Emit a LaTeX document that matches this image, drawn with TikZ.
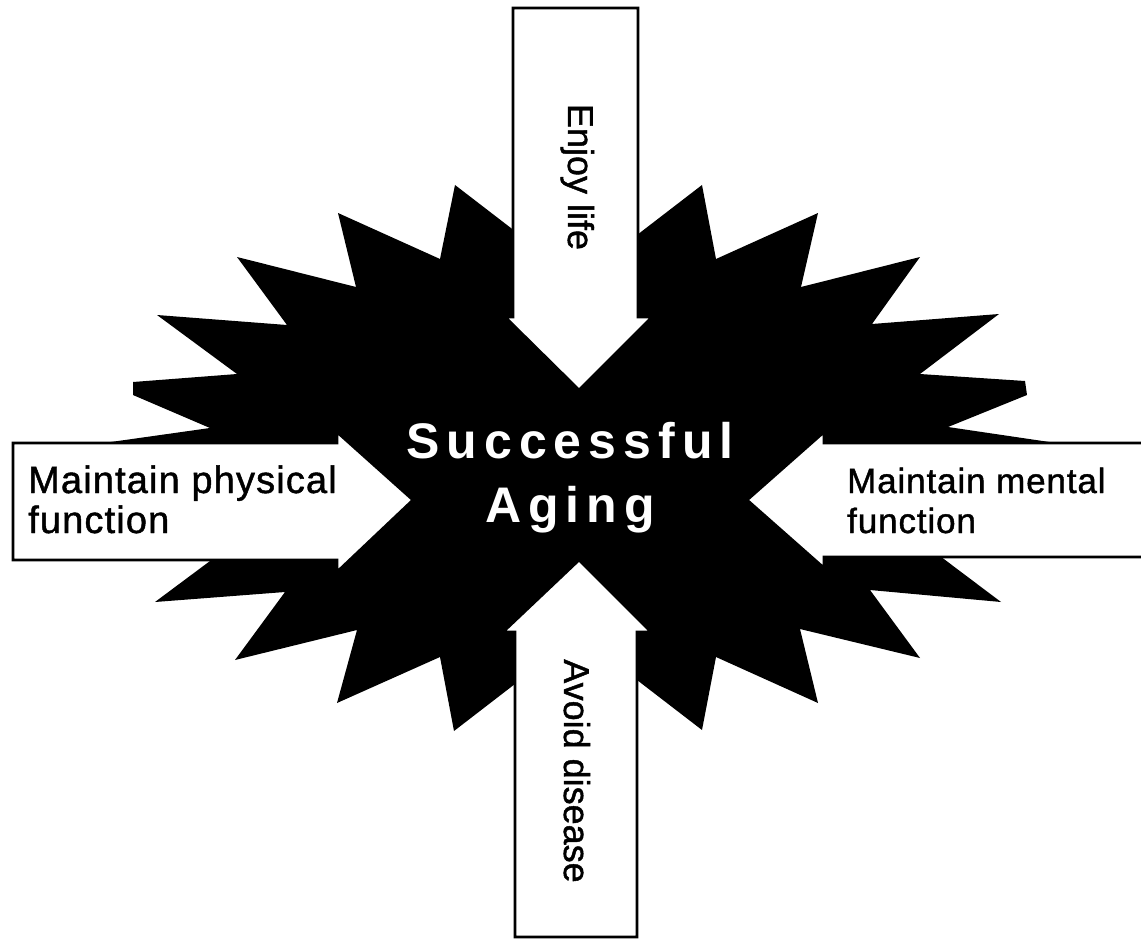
\documentclass[tikz,border=0pt]{standalone}
\usepackage{fontspec}
\setmainfont{Liberation Sans}
\newfontfamily\titlefont[LetterSpace=14]{Liberation Sans}
\newfontfamily\leftfont[LetterSpace=3,FakeBold=1.2]{Liberation Sans}
\newfontfamily\rightfont[LetterSpace=2.5,FakeBold=1.2]{Liberation Sans}
\newfontfamily\vertfont[FakeBold=1.2]{Liberation Sans}
\begin{document}
\begin{tikzpicture}[x=1pt,y=-1pt]
\tikzset{
  burst/.style={fill=black},
  blockarrow/.style={fill=white, draw=black, line width=2.8pt, line join=miter},
  lbl/.style={text=black, inner sep=0pt},
  vlbl/.style={lbl, rotate=-90, anchor=base, font=\vertfont\fontsize{36}{36}\selectfont},
  ttl/.style={text=white, inner sep=0pt, anchor=base, font=\titlefont\bfseries\fontsize{50}{60}\selectfont},
}
\useasboundingbox (0,0) rectangle (1141,939);
\clip (0,0) rectangle (1141,939);
% starburst
\fill[burst] (578.5,280) -- (702,185) -- (716,259) -- (818,213) -- (801,287)
  -- (920,257) -- (872,324) -- (999,314) -- (920,374) -- (1025,381) -- (1027,395)
  -- (948,427) -- (1117,452) -- (900,526) -- (1001,602) -- (870,590) -- (920,658)
  -- (800,629) -- (818,703) -- (716,657) -- (702,730) -- (578.5,635) -- (454,731)
  -- (440,657) -- (337,703) -- (357,630) -- (235,660) -- (285,592) -- (155,602)
  -- (257,526) -- (40,452) -- (210,428) -- (133,395) -- (133,382) -- (237,374)
  -- (157,315) -- (287,325) -- (237,257) -- (356,287) -- (338,213) -- (440,259)
  -- (455,185) -- cycle;
% block arrows
\draw[blockarrow] (513,8) -- (638,8) -- (638,317) -- (652,317) -- (579,390)
  -- (505,317) -- (513,317) -- cycle;
\draw[blockarrow] (515,937) -- (637,937) -- (637,632) -- (651,632) -- (579,560)
  -- (503,632) -- (515,632) -- cycle;
\draw[blockarrow] (13,443) -- (337,443) -- (337,432) -- (413,500) -- (337,572)
  -- (337,560) -- (13,560) -- cycle;
\draw[blockarrow] (1146,443) -- (824,443) -- (824,432) -- (747,500) -- (824,568)
  -- (824,557) -- (1146,557) -- cycle;
% labels
\node[vlbl] (enjoy) at (568,177) {Enjoy life};
\node[vlbl] (avoid) at (564,771) {Avoid disease};
\node[lbl, anchor=base west, font=\leftfont\fontsize{38}{38}\selectfont] (phys1) at (28,493) {Maintain physical};
\node[lbl, anchor=base west, font=\leftfont\fontsize{38}{38}\selectfont] (phys2) at (28,533) {function};
\node[lbl, anchor=base west, font=\rightfont\fontsize{35}{35}\selectfont] (ment1) at (847,493) {Maintain mental};
\node[lbl, anchor=base west, font=\rightfont\fontsize{35}{35}\selectfont] (ment2) at (847,533) {function};
\node[ttl] (succ) at (570,458) {Successful};
\node[ttl] (aging) at (570,522) {Aging};
\end{tikzpicture}
\end{document}
